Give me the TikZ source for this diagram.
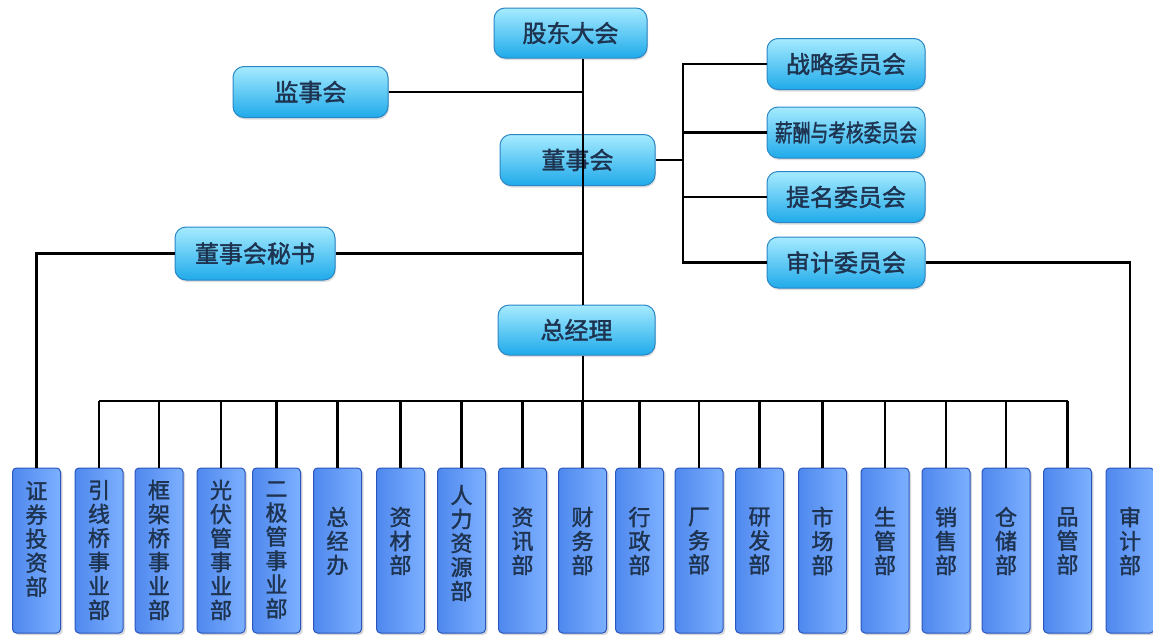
\documentclass[tikz,border=0pt]{standalone}
\usepackage{fontspec}
\newfontfamily\cjk{Noto Sans CJK SC}[AutoFakeBold=1.6]
\usetikzlibrary{shadows}
\definecolor{txt}{HTML}{1E3350}
\definecolor{cyanTop}{HTML}{A6EBFF}
\definecolor{cyanBot}{HTML}{1FAAEA}
\definecolor{cyanEdge}{HTML}{2A86C4}
\definecolor{deptL}{HTML}{4F88EE}
\definecolor{deptR}{HTML}{7CB0FF}
\definecolor{deptEdge}{HTML}{2B55BE}
\tikzset{
  topbox/.style={draw=cyanEdge, line width=1pt, rounded corners=11pt,
    top color=cyanTop, bottom color=cyanBot, minimum width=155pt, minimum height=51pt,
    inner sep=0pt, font=\cjk\bfseries\fontsize{24}{26}\selectfont, text=txt,
    drop shadow={opacity=0.25, shadow xshift=1pt, shadow yshift=-2pt}},
  deptbox/.style={draw=deptEdge, line width=1pt, rounded corners=4pt,
    left color=deptL, right color=deptR, minimum width=48pt, minimum height=165pt,
    inner sep=0pt, drop shadow={opacity=0.3, shadow xshift=2pt, shadow yshift=-2pt}},
  depttext/.style={font=\cjk\bfseries\fontsize{22}{24}\selectfont, text=txt, align=center, inner sep=0pt},
  conn/.style={line width=2.4pt, black}
}
\begin{document}
\begin{tikzpicture}[x=1pt,y=-1pt]
\path[use as bounding box, fill=white] (0,0) rectangle (1153,635);
\coordinate (mx) at (583,0);
\coordinate (cx) at (683,0);
\coordinate (by) at (0,401);
% top nodes
\node[topbox, minimum width=153pt, minimum height=50pt] (gd) at (570.5,33) {股东大会};
\node[topbox] (js) at (310.5,92) {监事会};
\node[topbox] (dsh) at (577.5,160) {董事会};
\node[topbox, minimum width=160pt, minimum height=53pt] (ms) at (255,253.5) {董事会秘书};
\node[topbox, minimum width=157pt, minimum height=50pt] (zjl) at (576.5,330) {总经理};
\node[topbox, minimum width=158pt] (c1) at (846,64) {战略委员会};
\node[topbox, minimum width=158pt] (c2) at (846,132.5) {\scalebox{0.74}[1]{薪酬与考核委员会}};
\node[topbox, minimum width=158pt] (c3) at (846,197) {提名委员会};
\node[topbox, minimum width=158pt] (c4) at (846,262.5) {审计委员会};
% department boxes
\node[deptbox] (b1) at (36.5,550.5) {};
\node[deptbox] (b2) at (99,550.5) {};
\node[deptbox] (b3) at (159,550.5) {};
\node[deptbox] (b4) at (221,550.5) {};
\node[deptbox] (b5) at (276.5,550.5) {};
\node[deptbox] (b6) at (337.5,550.5) {};
\node[deptbox] (b7) at (400.5,550.5) {};
\node[deptbox] (b8) at (461.5,550.5) {};
\node[deptbox] (b9) at (522.5,550.5) {};
\node[deptbox] (b10) at (582.5,550.5) {};
\node[deptbox] (b11) at (639.5,550.5) {};
\node[deptbox] (b12) at (699,550.5) {};
\node[deptbox] (b13) at (759.5,550.5) {};
\node[deptbox] (b14) at (822.5,550.5) {};
\node[deptbox] (b15) at (885,550.5) {};
\node[deptbox] (b16) at (946,550.5) {};
\node[deptbox] (b17) at (1006,550.5) {};
\node[deptbox] (b18) at (1067.5,550.5) {};
\node[deptbox] (b19) at (1130,550.5) {};
% department texts
\node[depttext] (t1) at (36.5,539) {证\\券\\投\\资\\部};
\node[depttext] (t2) at (99,550) {引\\线\\桥\\事\\业\\部};
\node[depttext] (t3) at (159,550) {框\\架\\桥\\事\\业\\部};
\node[depttext] (t4) at (221,550) {光\\伏\\管\\事\\业\\部};
\node[depttext] (t5) at (276.5,550) {二\\极\\管\\事\\业\\部};
\node[depttext] (t6) at (337.5,541) {总\\经\\办};
\node[depttext] (t7) at (400.5,541) {资\\材\\部};
\node[depttext] (t8) at (461.5,543) {人\\力\\资\\源\\部};
\node[depttext] (t9) at (522.5,541) {资\\讯\\部};
\node[depttext] (t10) at (582.5,541) {财\\务\\部};
\node[depttext] (t11) at (639.5,541) {行\\政\\部};
\node[depttext] (t12) at (699,541) {厂\\务\\部};
\node[depttext] (t13) at (759.5,541) {研\\发\\部};
\node[depttext] (t14) at (822.5,541) {市\\场\\部};
\node[depttext] (t15) at (885,541) {生\\管\\部};
\node[depttext] (t16) at (946,541) {销\\售\\部};
\node[depttext] (t17) at (1006,541) {仓\\储\\部};
\node[depttext] (t18) at (1067.5,541) {品\\管\\部};
\node[depttext] (t19) at (1130,541) {审\\计\\部};
% connectors
\draw[conn] (gd.south -| mx) -- (zjl.north -| mx);
\draw[conn] (js.east) -- (js.east -| mx);
\draw[conn] (ms.east) -- (ms.east -| mx);
\draw[conn] (ms.west) -| (b1.north);
\draw[conn] (dsh.east) -- (dsh.east -| cx);
\draw[conn] (c1.west) -| (c4.west -| cx) -- (c4.west);
\draw[conn] (c2.west) -- (c2.west -| cx);
\draw[conn] (c3.west) -- (c3.west -| cx);
\draw[conn] (c4.east) -| (b19.north);
\draw[conn] (zjl.south -| mx) -- (mx |- by);
\draw[conn] (b2.north |- by) -- (b18.north |- by);
\foreach \i in {2,...,18} {
  \draw[conn] (b\i.north) -- (b\i.north |- by);
}
\end{tikzpicture}
\end{document}
